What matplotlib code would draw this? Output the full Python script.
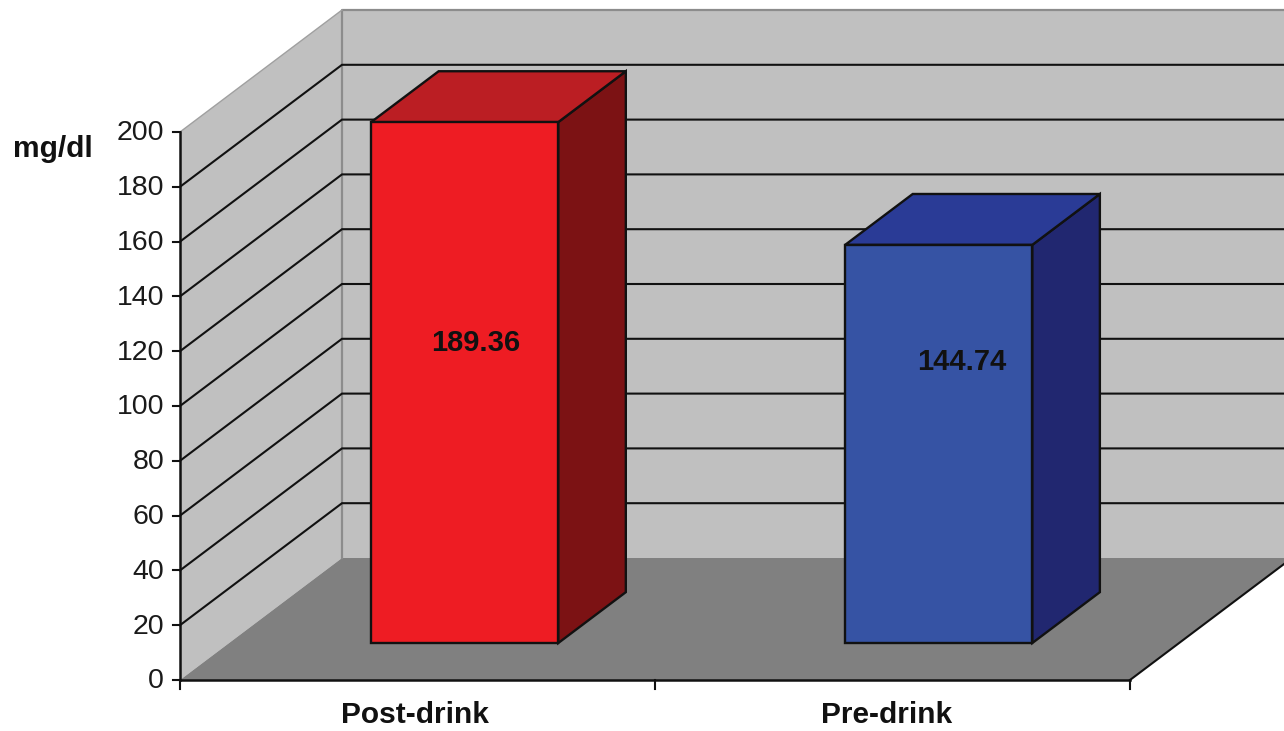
import matplotlib
matplotlib.use("Agg")
import matplotlib.pyplot as plt
from matplotlib.patches import Polygon

categories = ["Post-drink", "Pre-drink"]
values = [189.36, 144.74]
value_labels = ["189.36", "144.74"]
front_colors = ["#ee1c23", "#3653a4"]
top_colors = ["#bb1e23", "#2a3b96"]
side_colors = ["#7c1214", "#212770"]
yticks = list(range(0, 201, 20))

W, H = 1284, 731
X0, XU = 180.0, 475.0     # pixel of x=0, pixels per category
Y0, YU = 680.0, 2.74      # pixel of y=0, pixels per mg/dl
DX, DY = 162 / XU, 122 / YU  # full depth in data units
BAR_W = 0.394
BAR_POS = [0.496, 1.494]
BAR_SCALE = 1.004
D_FRONT, D_BACK = 0.303, 0.72
LABEL_DX = [11, 23]      # pixels right of the bar centre
LABEL_Y = [109.5, 102.6]  # height of the label on the bar front
CAT_POS = [0.495, 1.487]

fig = plt.figure(figsize=(W / 100, H / 100), dpi=100, facecolor="white")
ax = fig.add_axes([0, 0, 1, 1])
ax.set_xlim(-X0 / XU, (W - X0) / XU)
ax.set_ylim((Y0 - H) / YU, Y0 / YU)
ax.axis("off")
plt.rcParams["font.family"] = ["Liberation Sans", "DejaVu Sans"]


def P(x, y, d=0.0):
    return (x + d * DX, y + d * DY)


def poly(pts, fc, ec="none", lw=0.0, z=1):
    ax.add_patch(Polygon(pts, closed=True, facecolor=fc, edgecolor=ec, linewidth=lw,
                         joinstyle="miter", zorder=z))


n = len(categories)
ymax = yticks[-1]
wall = "#c0c0c0"
edge = "#8c8c8c"
ink = "#111111"

# back wall, side wall, floor
far = n + 0.02
poly([P(0, 0, 1), P(far, 0, 1), P(far, ymax, 1), P(0, ymax, 1)], wall, z=1)
poly([P(0, 0), P(0, 0, 1), P(0, ymax, 1), P(0, ymax)], wall, z=1)
poly([P(0, 0), P(n, 0), P(n, 0, 1), P(0, 0, 1)], "#808080", z=2)

# wall outlines
ax.plot(*zip(P(0, 0, 1), P(0, ymax, 1), P(far, ymax, 1)), color=edge, lw=1.6, zorder=2)
ax.plot(*zip(P(0, ymax), P(0, ymax, 1)), color="#a0a0a0", lw=1.0, zorder=2)

# gridlines
for t in yticks[1:-1]:
    ax.plot(*zip(P(0, t), P(0, t, 1), P(far, t, 1)), color=ink, lw=1.5, zorder=3,
            solid_joinstyle="miter")

# bars
for i, (v, lab) in enumerate(zip(values, value_labels)):
    x0 = BAR_POS[i] - BAR_W / 2
    x1 = BAR_POS[i] + BAR_W / 2
    h = v * BAR_SCALE
    poly([P(x1, 0, D_FRONT), P(x1, 0, D_BACK), P(x1, h, D_BACK), P(x1, h, D_FRONT)],
         side_colors[i], ink, 1.7, z=4)
    poly([P(x0, h, D_FRONT), P(x1, h, D_FRONT), P(x1, h, D_BACK), P(x0, h, D_BACK)],
         top_colors[i], ink, 1.7, z=4)
    poly([P(x0, 0, D_FRONT), P(x1, 0, D_FRONT), P(x1, h, D_FRONT), P(x0, h, D_FRONT)],
         front_colors[i], ink, 1.7, z=5)
    cx, cy = P(BAR_POS[i], LABEL_Y[i], D_FRONT)
    ax.text(cx + LABEL_DX[i] / XU, cy, lab, ha="center", va="center", fontsize=21,
            fontweight="bold", color="#111111", zorder=6)

# axes
tick = 7 / XU
ax.plot([0, 0], [0, ymax], color=ink, lw=1.8, zorder=7)
ax.plot([0, n], [0, 0], color=ink, lw=1.8, zorder=7)
ax.plot(*zip(P(n, 0), P(n, 0, 1)), color=ink, lw=1.5, zorder=3)
for t in yticks:
    ax.plot([-tick, 0], [t, t], color=ink, lw=1.5, zorder=7)
    ax.text(-16 / XU, t - 0.5, str(t), ha="right", va="center", fontsize=20.5, color="#1a1a1a", zorder=7)
for i in range(n + 1):
    ax.plot([i, i], [0, -9 / YU], color=ink, lw=1.5, zorder=7)
for i, c in enumerate(categories):
    ax.text(CAT_POS[i], -35 / YU, c, ha="center", va="center", fontsize=21.5,
            fontweight="bold", color="#111111", zorder=7)

ax.text((53 - X0) / XU, (Y0 - 149) / YU, "mg/dl", ha="center", va="center", fontsize=21.5,
        fontweight="bold", color="#111111", zorder=7)

fig.savefig("out.png", dpi=100, facecolor="white")
